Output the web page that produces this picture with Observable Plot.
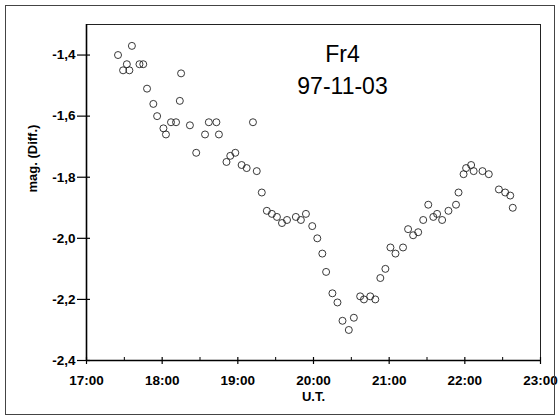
<!DOCTYPE html>
<html>
<head>
<meta charset="utf-8">
<script src="https://cdn.jsdelivr.net/npm/d3@7"></script>
<script src="https://cdn.jsdelivr.net/npm/@observablehq/plot@0.6"></script>
<style>
  html, body { margin: 0; padding: 0; background: #fff; }
  #wrap { position: relative; width: 559px; height: 419px; overflow: hidden; }
  #border { position: absolute; left: 5px; top: 5px; width: 550px; height: 410px; border: 1px solid #444; box-sizing: border-box; pointer-events: none; }
  svg { font-family: "Liberation Sans", Arial, sans-serif; }
</style>
</head>
<body>
<div id="wrap"><div id="border"></div></div>
<script>
const times = ["17:25","17:29","17:32","17:34","17:36","17:42","17:45","17:48","17:53","17:56",
  "18:01","18:03","18:07","18:11","18:14","18:15","18:22","18:27","18:34","18:37",
  "18:43","18:45","18:51","18:54","18:58","19:03","19:07","19:12","19:15","19:19",
  "19:23","19:27","19:31","19:35","19:39","19:46","19:50","19:54","19:59","20:03",
  "20:07","20:10","20:15","20:19","20:23","20:28","20:32","20:37","20:40","20:45",
  "20:49","20:53","20:57","21:01","21:05","21:11","21:15","21:19","21:23","21:27",
  "21:31","21:35","21:38","21:42","21:47","21:53","21:55","21:59","22:01","22:05",
  "22:07","22:14","22:19","22:27","22:32","22:36","22:38"];
const mags = [-1.40,-1.45,-1.43,-1.45,-1.37,-1.43,-1.43,-1.51,-1.56,-1.60,
  -1.64,-1.66,-1.62,-1.62,-1.55,-1.46,-1.63,-1.72,-1.66,-1.62,
  -1.62,-1.66,-1.75,-1.73,-1.72,-1.76,-1.77,-1.62,-1.78,-1.85,
  -1.91,-1.92,-1.93,-1.95,-1.94,-1.93,-1.94,-1.92,-1.96,-2.00,
  -2.05,-2.11,-2.18,-2.21,-2.27,-2.30,-2.26,-2.19,-2.20,-2.19,
  -2.20,-2.13,-2.10,-2.03,-2.05,-2.03,-1.97,-1.99,-1.98,-1.94,
  -1.89,-1.93,-1.92,-1.94,-1.91,-1.89,-1.85,-1.79,-1.77,-1.76,
  -1.78,-1.78,-1.79,-1.84,-1.85,-1.86,-1.90];
const xTicks = [17, 18, 19, 20, 21, 22, 23];
const xMinorTicks = [17.5, 18.5, 19.5, 20.5, 21.5, 22.5];
const yTicks = [-2.4, -2.2, -2.0, -1.8, -1.6, -1.4];
const xDomain = [17, 23];
const yDomain = [-2.4, -1.3];
const title = "Fr4\n97-11-03";
const xLabel = "U.T.";
const yLabel = "mag. (Diff.)";

const toHours = s => { const [h, m] = s.split(":").map(Number); return h + m / 60; };
const data = times.map((t, i) => ({t: toHours(t), mag: mags[i]}));

const W = 559, H = 419, mL = 86, mR = 19, mT = 24, mB = 59;
const pw = W - mL - mR, ph = H - mT - mB;

const chart = Plot.plot({
  width: W, height: H,
  marginLeft: mL, marginRight: mR, marginTop: mT, marginBottom: mB,
  style: {fontFamily: "'Liberation Sans', Arial, sans-serif", background: "transparent"},
  x: {domain: xDomain, label: null},
  y: {domain: yDomain, label: null},
  marks: [
    Plot.frame({stroke: "#222", strokeWidth: 1}),
    Plot.ruleX([xDomain[0]], {stroke: "black", strokeWidth: 1.6}),
    Plot.ruleY([yDomain[0]], {stroke: "black", strokeWidth: 1.6}),
    Plot.axisX(xTicks, {tickSize: 0, tickPadding: 15, tickFormat: d => `${d}:00`, fontSize: 13.5, fontWeight: "bold", label: null}),
    Plot.axisY(yTicks, {tickSize: 0, tickPadding: 11, tickFormat: d => d.toFixed(1).replace(".", ","), fontSize: 13.5, fontWeight: "bold", label: null}),
    Plot.tickY(yTicks, {y: d => d, insetRight: pw - 13, dx: -9, stroke: "black", strokeWidth: 1.2}),
    Plot.tickX(xTicks, {x: d => d, insetTop: ph - 3, insetBottom: -4, stroke: "black", strokeWidth: 1.2}),
    Plot.tickX(xMinorTicks, {x: d => d, insetTop: ph - 3, stroke: "black", strokeWidth: 1}),
    Plot.dot(data, {x: "t", y: "mag", r: 3.5, stroke: "#222", strokeWidth: 0.9, fill: "none"}),
    Plot.text([title], {frameAnchor: "top", dx: 29, dy: 15, fontSize: 23, lineHeight: 1.39, fill: "black"}),
    Plot.text([xLabel], {frameAnchor: "bottom", dy: 40, fontSize: 13, fontWeight: "bold", fill: "black"}),
    Plot.text([yLabel], {frameAnchor: "left", dx: -54, rotate: -90, fontSize: 13, fontWeight: "bold", fill: "black"})
  ]
});
document.getElementById("wrap").prepend(chart);
</script>
</body>
</html>
